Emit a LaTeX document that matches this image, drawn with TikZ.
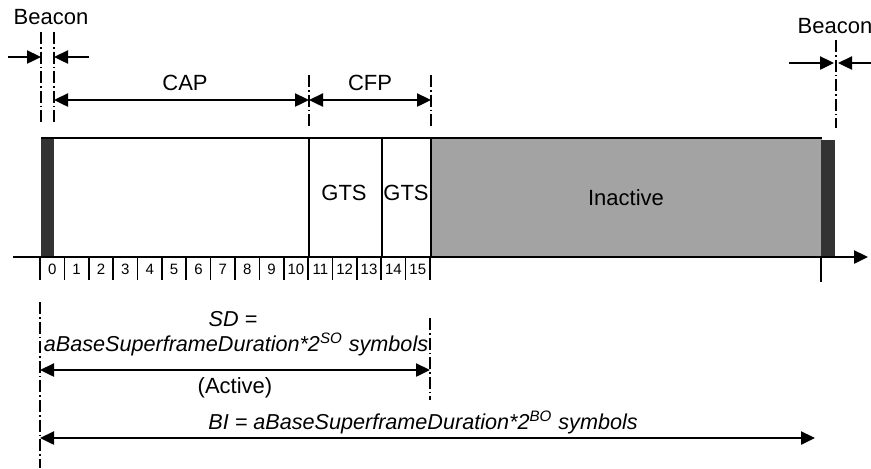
\documentclass[tikz,border=0pt]{standalone}
\usepackage{fontspec}
\setmainfont{Liberation Sans}
\usetikzlibrary{arrows.meta,positioning,calc}
\definecolor{BarDark}{HTML}{333333}
\definecolor{IdleFill}{HTML}{A3A3A3}
\tikzset{>={Triangle[length=7pt,width=6.5pt]},every node/.style={inner sep=0pt,
 font=\fontsize{11}{12}\selectfont},dimline/.style={line width=1.2pt,<->},
 guide/.style={semithick,dash pattern=on 6pt off 1.5pt on 0.8pt off 1.5pt},
 slotlab/.style={font=\fontsize{7.5}{8}\selectfont},
 formula/.style={font=\fontsize{10.8}{12}\selectfont\itshape}}

\begin{document}
\begin{tikzpicture}[x=0.5pt,y=-0.5pt]
\useasboundingbox (0,0) rectangle (871,468);
% superframe
\fill[IdleFill] (431,138) rectangle (822,257);
\fill[BarDark] (41,138) rectangle (54,257);
\fill[BarDark] (821,140) rectangle (835,257);
\draw[line width=0.9pt] (41,138) -- (822,138);
\foreach \x in {309,382}
 {\draw[line width=0.8pt] (\x,138) -- (\x,257);}
\draw[line width=1pt] (431,138) -- (431,257);
\node (gtsA) at (344,193) {GTS};
\node (gtsB) at (406,193) {GTS};
\node (idle) at (626,198) {Inactive};
% time axis and slots
\coordinate (ax0) at (13,257);
\coordinate (ax1) at (868,257);
\draw[line width=1.2pt,->] (ax0) -- (ax1);
\foreach \i in {0,...,16}
 {\draw[line width=0.8pt] (40+24.375*\i,257) -- ++(0,23);}
\foreach \i in {0,...,15}
 {\node[slotlab] (slot\i) at (52.2+24.375*\i,269) {\i};}
\draw[line width=0.8pt] (821,257) -- (821,282);
% beacon marks
\node (bcnL) at (51,17) {Beacon};
\node (bcnR) at (835,26) {Beacon};
\draw[guide] (41,32) -- (41,123);
\draw[guide] (54,32) -- (54,123);
\draw[guide] (836,40) -- (836,128);
\coordinate (bL0) at (8,57); \coordinate (bL1) at (41,57);
\coordinate (bL2) at (89,57); \coordinate (bL3) at (54,57);
\draw[line width=1.2pt,->] (bL0) -- (bL1);
\draw[line width=1.2pt,->] (bL2) -- (bL3);
\coordinate (bR0) at (789,63); \coordinate (bR1) at (834,63);
\coordinate (bR2) at (871,63); \coordinate (bR3) at (838,63);
\draw[line width=1.2pt,->] (bR0) -- (bR1);
\draw[line width=1.2pt,->] (bR2) -- (bR3);
% CAP / CFP
\draw[guide] (309,75) -- (309,126);
\draw[guide] (431,75) -- (431,126);
\coordinate (capA) at (54,100); \coordinate (capB) at (309,100);
\coordinate (cfpB) at (431,100);
\node (cap) at (185,83) {CAP};
\node (cfp) at (370,83) {CFP};
\draw[dimline] (capA) -- (capB);
\draw[dimline] (capB) -- (cfpB);
% durations
\draw[guide] (40,302) -- (40,468);
\draw[guide] (430,318) -- (430,400);
\node[formula] (sdA) at (233,319) {SD =};
\node[formula] (sdB) at (236,344) {aBaseSuperframeDuration*2\textsuperscript{SO} symbols};
\coordinate (sd0) at (40,370); \coordinate (sd1) at (430,370);
\draw[dimline] (sd0) -- (sd1);
\node (act) at (235,388) {(Active)};
\node[formula] (bi) at (423,422) {BI = aBaseSuperframeDuration*2\textsuperscript{BO} symbols};
\coordinate (bi0) at (40,438); \coordinate (bi1) at (815,438);
\draw[dimline] (bi0) -- (bi1);
\end{tikzpicture}
\end{document}
